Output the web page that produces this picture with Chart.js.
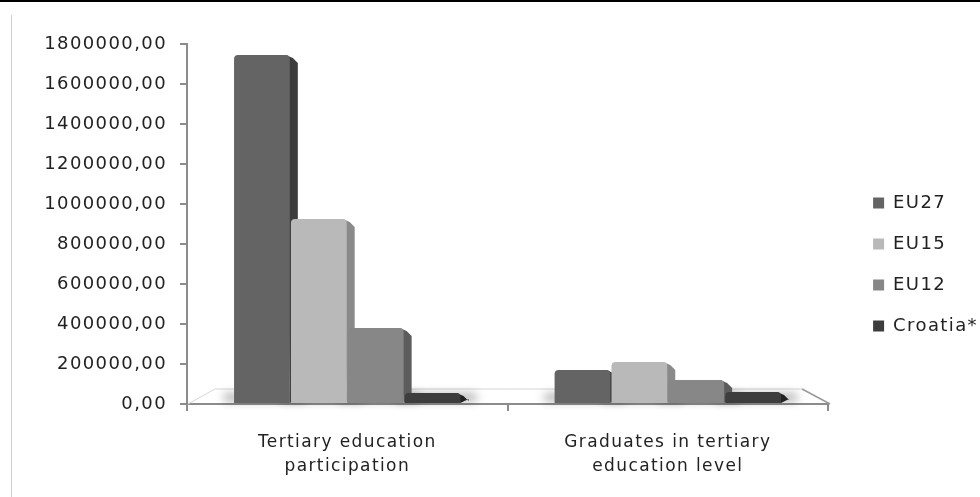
<!DOCTYPE html>
<html>
<head>
<meta charset="utf-8">
<script src="https://cdn.jsdelivr.net/npm/chart.js@4.4.1/dist/chart.umd.min.js"></script>
<style>
  html, body { margin: 0; padding: 0; background: #fff; }
  #wrap { position: relative; width: 980px; height: 497px; overflow: hidden; }
  #c { position: absolute; left: 0; top: 0; }
  #topRule { position: absolute; left: 0; top: 0; width: 980px; height: 2px; background: #000; }
  #sideRule { position: absolute; left: 11px; top: 15px; width: 1px; height: 482px; background: #cfcfcf; }
</style>
</head>
<body>
<div id="wrap">
  <canvas id="c" width="980" height="497"></canvas>
  <div id="topRule"></div>
  <div id="sideRule"></div>
</div>
<script>
// Categories (two-line axis labels)
const categories = [
  ["Tertiary education", "participation"],
  ["Graduates in tertiary", "education level"]
];
const seriesNames = ["EU27", "EU15", "EU12", "Croatia*"];

// Series values
const eu27 = [1745000, 170000];
const eu15 = [925000, 210000];
const eu12 = [380000, 120000];
const croatia = [55000, 60000];

// Value axis ticks
const yTicks = [0, 200000, 400000, 600000, 800000, 1000000, 1200000, 1400000, 1600000, 1800000];

const frontColors = ["#646464", "#b9b9b9", "#878787", "#3d3d3d"];
const sideColors  = ["#3c3c3c", "#8a8a8a", "#5c5c5c", "#222222"];

const FONT = "'DejaVu Sans', sans-serif";
const seriesValues = [eu27, eu15, eu12, croatia];

// Slightly wider lettering for all chart text (re-applied because a canvas resize resets the context)
const LETTER_SPACING = '1.4px';
const spacingPlugin = {
  id: 'spacing',
  beforeLayout(chart) { chart.ctx.letterSpacing = LETTER_SPACING; },
  beforeDraw(chart) { chart.ctx.letterSpacing = LETTER_SPACING; }
};

// Floor outline, soft shadows and right-hand side faces for a bevelled look
const depthPlugin = {
  id: 'depth',
  beforeDatasetsDraw(chart) {
    const ctx = chart.ctx;
    const a = chart.chartArea;
    ctx.save();
    // floor
    ctx.lineWidth = 1;
    ctx.strokeStyle = '#d6d6d6';
    ctx.beginPath();
    ctx.moveTo(a.left + 1, a.bottom);
    ctx.lineTo(a.left + 28, a.bottom - 15);
    ctx.lineTo(a.right - 26, a.bottom - 15);
    ctx.stroke();
    ctx.strokeStyle = '#9a9a9a';
    ctx.lineWidth = 1.5;
    ctx.beginPath();
    ctx.moveTo(a.right - 26, a.bottom - 15);
    ctx.lineTo(a.right + 2, a.bottom);
    ctx.stroke();

    // soft shadows on the floor
    ctx.filter = 'blur(5px)';
    ctx.fillStyle = 'rgba(0,0,0,0.35)';
    chart.data.datasets.forEach((ds, i) => {
      chart.getDatasetMeta(i).data.forEach(bar => {
        const p = bar.getProps(['x', 'base', 'width'], true);
        ctx.fillRect(p.x - p.width / 2 - 10, p.base - 9, p.width + 26, 7);
      });
    });
    ctx.filter = 'none';

    // side faces
    chart.data.datasets.forEach((ds, i) => {
      chart.getDatasetMeta(i).data.forEach(bar => {
        const p = bar.getProps(['x', 'y', 'base', 'width'], true);
        const r = p.x + p.width / 2;
        const top = Math.min(p.y, p.base - 2);
        ctx.fillStyle = ds.sideColor;
        ctx.beginPath();
        ctx.moveTo(r - 4, top);
        ctx.lineTo(r + 3, top + 3);
        ctx.lineTo(r + 8, top + 8);
        ctx.lineTo(r + 8, p.base - 4);
        ctx.lineTo(r, p.base);
        ctx.closePath();
        ctx.fill();
      });
    });
    ctx.restore();
  }
};

const fmt = v => Number(v).toFixed(2).replace('.', ',');

new Chart(document.getElementById('c'), {
  type: 'bar',
  data: {
    labels: categories,
    datasets: seriesNames.map((name, i) => ({
      label: name,
      data: seriesValues[i],
      backgroundColor: frontColors[i],
      sideColor: sideColors[i],
      borderWidth: 0,
      borderRadius: { topLeft: 4, topRight: 4, bottomLeft: 0, bottomRight: 0 },
      borderSkipped: 'bottom',
      categoryPercentage: 0.71,
      barPercentage: 0.98
    }))
  },
  options: {
    responsive: false,
    animation: false,
    devicePixelRatio: 1,
    layout: { padding: { top: 44, right: -8, bottom: 12, left: 0 } },
    plugins: {
      legend: {
        position: 'right',
        labels: {
          font: { family: FONT, size: 18 },
          color: '#222',
          boxWidth: 11,
          boxHeight: 11,
          padding: 23
        }
      },
      tooltip: { enabled: false }
    },
    scales: {
      x: {
        grid: { drawOnChartArea: false, drawTicks: true, tickLength: 7, color: '#8c8c8c', lineWidth: 2 },
        border: { display: true, color: '#8c8c8c', width: 2 },
        ticks: { font: { family: FONT, size: 17, lineHeight: 1.4 }, color: '#222', padding: 20, maxRotation: 0 },
        afterFit(s) { s.height = 81; }
      },
      y: {
        min: 0,
        max: 1800000,
        afterBuildTicks(s) { s.ticks = yTicks.map(v => ({ value: v })); },
        grid: { drawOnChartArea: false, drawTicks: true, tickLength: 7, color: '#8c8c8c', lineWidth: 2 },
        border: { display: true, color: '#8c8c8c', width: 2 },
        ticks: { font: { family: FONT, size: 18 }, color: '#222', padding: 13, callback: v => fmt(v) },
        afterFit(s) { s.width = 187; }
      },
      gap: {
        type: 'linear',
        position: 'right',
        display: true,
        grid: { display: false },
        border: { display: false },
        ticks: { display: false },
        afterFit(s) { s.width = 22; }
      }
    }
  },
  plugins: [spacingPlugin, depthPlugin]
});
</script>
</body>
</html>
